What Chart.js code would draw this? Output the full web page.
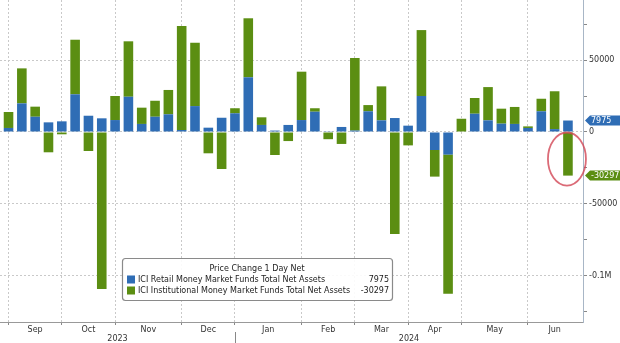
<!DOCTYPE html>
<html>
<head>
<meta charset="utf-8">
<script src="https://cdn.jsdelivr.net/npm/chart.js@4"></script>
<style>
  html, body { margin: 0; padding: 0; background: #fff; }
  #wrap { width: 620px; height: 343px; }
</style>
</head>
<body>
<div id="wrap"><canvas id="chart" width="620" height="343"></canvas></div>
<script>
// weekly ICI releases (Wednesdays)
const weeks = [
  "2023-09-06", "2023-09-13", "2023-09-20", "2023-09-27",
  "2023-10-04", "2023-10-11", "2023-10-18", "2023-10-25",
  "2023-11-01", "2023-11-08", "2023-11-15", "2023-11-22", "2023-11-29",
  "2023-12-06", "2023-12-13", "2023-12-20", "2023-12-27",
  "2024-01-03", "2024-01-10", "2024-01-17", "2024-01-24", "2024-01-31",
  "2024-02-07", "2024-02-14", "2024-02-21", "2024-02-28",
  "2024-03-06", "2024-03-13", "2024-03-20", "2024-03-27",
  "2024-04-03", "2024-04-10", "2024-04-17", "2024-04-24",
  "2024-05-01", "2024-05-08", "2024-05-15", "2024-05-22", "2024-05-29",
  "2024-06-05", "2024-06-12", "2024-06-19", "2024-06-26"
];

const retail = [
  2800, 19900, 10600, 6700,
  7400, 26200, 11300, 9500,
  8300, 24500, 5600, 10600, 12300,
  1400, 18000, 3000, 9900,
  13000, 38000, 4900, 1000, 4900,
  8300, 14100, 500, 3500,
  1000, 14400, 8100, 9700,
  4400, 25000, -12500, -15700,
  0, 12700, 8100, 5800, 5600,
  2800, 14400, 2000, 7975
];

const institutional = [
  11100, 24300, 7000, -14100,
  -1600, 37900, -13200, -109000,
  16700, 38500, 11300, 11100, 16900,
  72200, 44000, -14800, -25700,
  3500, 41000, 5300, -16000, -6300,
  33600, 2400, -5000, -8300,
  50400, 4300, 23600, -70800,
  -9300, 45800, -18500, -96700,
  9200, 10900, 23100, 10400, 11800,
  1100, 8700, 26300, -30297
];

const seriesNames = [
  "ICI Retail Money Market Funds Total Net Assets",
  "ICI Institutional Money Market Funds Total Net Assets"
];
const legendTitle = "Price Change 1 Day Net";
const monthNames = ["Jan", "Feb", "Mar", "Apr", "May", "Jun", "Jul", "Aug", "Sep", "Oct", "Nov", "Dec"];
const yTicks = [75000, 50000, 25000, 0, -25000, -50000, -75000, -100000, -125000];

const BLUE = "#2f6db5";
const GREEN = "#5b8e12";
const FONT = "DejaVu Sans";

// month segments from the dates
const dates = weeks.map((d) => new Date(d + "T00:00:00Z"));
const monthStarts = [];
dates.forEach((d, i) => {
  if (i === 0 || d.getUTCMonth() !== dates[i - 1].getUTCMonth()) monthStarts.push(i);
});
const monthMids = {};
monthStarts.forEach((s, k) => {
  const end = k + 1 < monthStarts.length ? monthStarts[k + 1] : weeks.length;
  monthMids[(s + end) / 2] = monthNames[dates[s].getUTCMonth()];
});
const yearStart = monthStarts.find((i) => dates[i].getUTCMonth() === 0);

const toPoints = (arr) => arr.map((v, i) => ({ x: i, y: v }));

const annotations = {
  id: "annotations",
  afterDraw(chart) {
    const { ctx, chartArea } = chart;
    const xs = chart.scales.x;
    const last = weeks.length - 1;
    const b = chart.getDatasetMeta(0).data[last];
    const g = chart.getDatasetMeta(1).data[last];
    ctx.save();

    // year row
    const yx = xs.getPixelForValue(yearStart);
    ctx.strokeStyle = "#888";
    ctx.lineWidth = 1;
    ctx.beginPath();
    ctx.moveTo(Math.round(yx) + 0.5, chartArea.bottom + 10);
    ctx.lineTo(Math.round(yx) + 0.5, chartArea.bottom + 21);
    ctx.stroke();
    ctx.fillStyle = "#333";
    ctx.font = "8px '" + FONT + "'";
    ctx.textAlign = "center";
    ctx.textBaseline = "middle";
    ctx.fillText(String(dates[0].getUTCFullYear()), (chartArea.left + yx) / 2, chartArea.bottom + 16.5);
    ctx.fillText(String(dates[yearStart].getUTCFullYear()), (yx + chartArea.right) / 2, chartArea.bottom + 16.5);

    // red ellipse round the last bar
    ctx.strokeStyle = "rgba(210, 70, 85, 0.8)";
    ctx.lineWidth = 1.8;
    ctx.beginPath();
    ctx.ellipse(g.x - 1, (g.base + g.y) / 2 + 5, 19, (g.y - g.base) / 2 + 5, 0, 0, Math.PI * 2);
    ctx.stroke();

    // value tags on the right axis
    const tag = (y, color, text) => {
      const x0 = chartArea.right + 2;
      ctx.fillStyle = color;
      ctx.beginPath();
      ctx.moveTo(x0, y);
      ctx.lineTo(x0 + 5, y - 5);
      ctx.lineTo(chart.width, y - 5);
      ctx.lineTo(chart.width, y + 5);
      ctx.lineTo(x0 + 5, y + 5);
      ctx.closePath();
      ctx.fill();
      ctx.fillStyle = "#fff";
      ctx.font = "8px '" + FONT + "'";
      ctx.textAlign = "left";
      ctx.textBaseline = "middle";
      ctx.fillText(text, x0 + 6, y + 0.5);
    };
    tag(b.y, BLUE, String(retail[last]));
    tag(g.y, GREEN, String(institutional[last]));

    // legend box
    const lx = chartArea.left + 122, ly = 258, lw = 270, lh = 42;
    ctx.fillStyle = "rgba(255,255,255,0.9)";
    ctx.strokeStyle = "#8a8a8a";
    ctx.lineWidth = 1.2;
    ctx.beginPath();
    ctx.roundRect(lx + 0.5, ly + 0.5, lw, lh, 3);
    ctx.fill();
    ctx.stroke();
    ctx.fillStyle = "#222";
    ctx.font = "8px '" + FONT + "'";
    ctx.textAlign = "center";
    ctx.fillText(legendTitle, lx + lw / 2, ly + 11);
    const rows = [[BLUE, seriesNames[0], retail[last]], [GREEN, seriesNames[1], institutional[last]]];
    rows.forEach(([c, name, val], k) => {
      const ry = ly + 21.5 + k * 11;
      ctx.fillStyle = c;
      ctx.fillRect(lx + 5, ry - 4, 8, 8);
      ctx.fillStyle = "#222";
      ctx.textAlign = "left";
      ctx.fillText(name, lx + 16, ry, 220);
      ctx.textAlign = "right";
      ctx.fillText(String(val), lx + lw - 3, ry);
    });
    ctx.restore();
  },
};

new Chart(document.getElementById("chart").getContext("2d"), {
  type: "bar",
  data: {
    datasets: [
      {
        label: seriesNames[0],
        data: toPoints(retail),
        backgroundColor: BLUE,
        barPercentage: 0.72,
        categoryPercentage: 1,
      },
      {
        label: seriesNames[1],
        data: toPoints(institutional),
        backgroundColor: GREEN,
        barPercentage: 0.72,
        categoryPercentage: 1,
      },
    ],
  },
  options: {
    responsive: false,
    animation: false,
    devicePixelRatio: 1,
    layout: { padding: 0 },
    plugins: {
      legend: { display: false },
      tooltip: { enabled: false },
    },
    scales: {
      x: {
        type: "linear",
        stacked: true,
        offset: false,
        min: -0.64,
        max: 43.13,
        afterBuildTicks: (scale) => {
          const vals = monthStarts.concat(Object.keys(monthMids).map(Number)).sort((a, b) => a - b);
          scale.ticks = vals.map((v) => ({ value: v }));
        },
        afterFit: (scale) => {
          scale.height = 21;
          scale.paddingLeft = 0;
          scale.paddingRight = 0;
        },
        ticks: {
          autoSkip: false,
          maxRotation: 0,
          padding: 0,
          color: "#333",
          font: { family: FONT, size: 8 },
          callback: (v) => monthMids[v] || "",
        },
        grid: {
          offset: false,
          color: (c) => (c.tick && monthStarts.includes(c.tick.value) ? "#c9c9c9" : "rgba(0,0,0,0)"),
          tickColor: (c) => (c.tick && monthStarts.includes(c.tick.value) ? "#888" : "rgba(0,0,0,0)"),
          tickLength: 3,
        },
        border: { color: "#999", dash: [2, 2] },
      },
      y: {
        position: "right",
        stacked: true,
        min: -132000,
        max: 91700,
        afterBuildTicks: (scale) => {
          scale.ticks = yTicks.map((v) => ({ value: v }));
        },
        afterFit: (scale) => {
          scale.width = 37;
          scale.paddingTop = 0;
          scale.paddingBottom = 0;
        },
        ticks: {
          padding: 2,
          color: "#333",
          font: { family: FONT, size: 8 },
          callback: (v) => (v === -100000 ? "-0.1M" : v % 50000 === 0 ? String(v) : ""),
        },
        grid: {
          color: (c) => (c.tick && c.tick.value % 50000 === 0 ? "#c9c9c9" : "rgba(0,0,0,0)"),
          tickColor: "#888",
          tickLength: 4,
        },
        border: { color: "#a8b6c6", dash: [2, 2] },
      },
    },
  },
  plugins: [annotations],
});
</script>
</body>
</html>
